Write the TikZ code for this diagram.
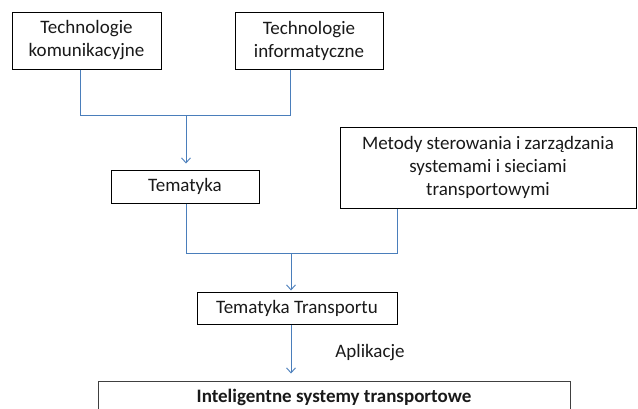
\documentclass[tikz,border=0pt]{standalone}
\usepackage{fontspec}
\setmainfont{Carlito}
\usetikzlibrary{arrows.meta}
\definecolor{conn}{RGB}{74,126,187}
\tikzset{
  x=1pt, y=1pt,
  box/.style={draw=black, line width=1pt, align=center, inner sep=0pt,
    font=\fontsize{19}{23}\selectfont, text=black!90},
  link/.style={draw=conn, line width=1pt},
  arr/.style={link, -{Straight Barb[length=5pt,width=9pt,line width=0.9pt]}},
}
\begin{document}
\begin{tikzpicture}
\useasboundingbox (0,0) rectangle (638,-408);
\clip (0,0) rectangle (638,-408);
\node[box, minimum width=149pt, minimum height=57pt] (tk) at (86.5,-40.5) {Technologie\\komunikacyjne};
\node[box, minimum width=148pt, minimum height=57pt] (ti) at (309,-40.5) {Technologie\\informatyczne};
\node[box, minimum width=148pt, minimum height=33pt] (tem) at (185,-186.5) {Tematyka};
\node[box, minimum width=296pt, minimum height=81pt] (met) at (488,-167.5) {Metody sterowania i zarządzania\\systemami i sieciami\\transportowymi};
\node[box, minimum width=200pt, minimum height=32pt] (tt) at (297,-308) {Tematyka Transportu};
\node[font=\fontsize{19}{23}\selectfont, text=black!90, inner sep=0pt] (apl) at (370,-353) {Aplikacje};
\node[box, draw=black!75, minimum width=472pt, minimum height=32pt, font=\fontsize{19}{23}\selectfont\bfseries] (its) at (334,-397) {Inteligentne systemy transportowe};
\coordinate (j1) at (186,-115);
\coordinate (j2) at (291,-253);
\draw[link] ([xshift=-6.5pt]tk.south) |- (j1);
\draw[link] ([xshift=-19pt]ti.south) |- (j1);
\draw[arr, shorten >=6pt] (j1) -- (tem.north -| j1);
\draw[link] ([xshift=1pt]tem.south) |- (j2);
\draw[link] ([xshift=-91pt]met.south) |- (j2);
\draw[arr, shorten >=1pt] (j2) -- (tt.north -| j2);
\draw[arr, shorten >=7pt] (tt.south -| j2) -- (its.north -| j2);
\end{tikzpicture}
\end{document}
